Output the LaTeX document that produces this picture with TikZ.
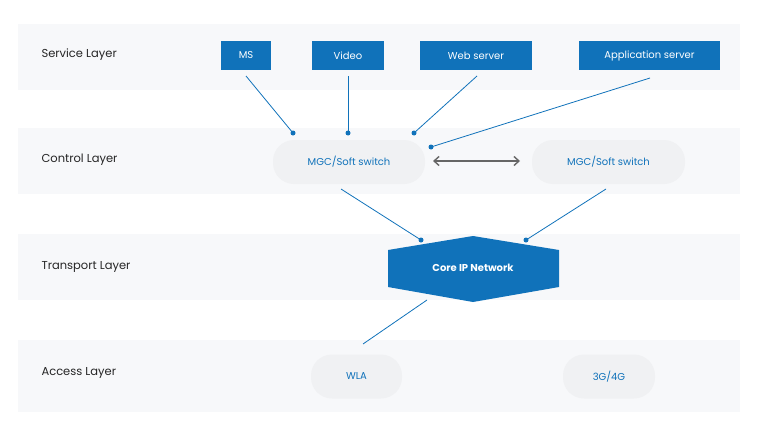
\documentclass[tikz,border=0pt]{standalone}
\usepackage{fontspec}
\setmainfont{Poppins}
\usetikzlibrary{arrows.meta}
\definecolor{band}{HTML}{F7F8FA}
\definecolor{blu}{HTML}{1072BA}
\definecolor{pill}{HTML}{F0F1F3}
\begin{document}
\begin{tikzpicture}[x=1pt,y=-1pt,
 band/.style={fill=band,draw=none},
 lay/.style={anchor=west,font=\fontsize{11.5}{13}\selectfont,text=black!85},
 svc/.style={fill=blu,text=white,font=\fontsize{10}{12}\selectfont,inner sep=0pt,minimum height=29pt},
 pl/.style={fill=pill,rounded corners=21pt,text=blu,font=\fontsize{10}{12}\selectfont,minimum height=44pt},
 ln/.style={draw=blu,line width=0.8pt},
 dot/.style={circle,fill=blu,inner sep=0pt,minimum size=5pt}]
\useasboundingbox (0,0) rectangle (765,439);
\fill[band] (18,24) rectangle (740,90);
\fill[band] (18,128) rectangle (740,194);
\fill[band] (18,234) rectangle (740,300);
\fill[band] (18,340) rectangle (740,412);
\node[lay] (l1) at (38,55) {Service Layer};
\node[lay] (l2) at (38,160) {Control Layer};
\node[lay] (l3) at (38,267) {Transport Layer};
\node[lay] (l4) at (38,373) {Access Layer};
\node[svc,minimum width=50pt] (ms) at (246,55.5) {MS};
\node[svc,minimum width=72pt] (vid) at (348,55.5) {Video};
\node[svc,minimum width=112pt] (web) at (476,55.5) {Web server};
\node[svc,minimum width=141pt] (app) at (649.5,55.5) {Application server};
\node[pl,minimum width=152pt] (m1) at (349,162) {MGC/Soft switch};
\node[pl,minimum width=153pt] (m2) at (608.5,162) {MGC/Soft switch};
\node[pl,minimum width=91pt] (wla) at (356.5,376.5) {WLA};
\node[pl,minimum width=92pt] (g) at (609,376.5) {3G/4G};
\fill[blu] (388,250) -- (473,236) -- (559,250) -- (559,287) -- (473,302) -- (388,287) -- cycle;
\node[text=white,font=\fontsize{10}{12}\selectfont\bfseries] (core) at (473,268) {Core IP Network};
\coordinate (d1) at (293,133); \coordinate (d2) at (348,133); \coordinate (d3) at (414,133);
\coordinate (d4) at (431,147); \coordinate (d5) at (421,240); \coordinate (d6) at (526,240);
\coordinate (c0) at (427,300); \coordinate (c1) at (363,344);
\coordinate (s5) at (341,189); \coordinate (s6) at (606,189);
\draw[ln] (246,76) -- (d1); \draw[ln] (348,76) -- (d2); \draw[ln] (477,76) -- (d3);
\draw[ln] (650,78) -- (d4); \draw[ln] (s5) -- (d5); \draw[ln] (s6) -- (d6); \draw[ln] (c0) -- (c1);
\foreach \d in {d1,d2,d3,d4,d5,d6} \node[dot] at (\d) {};
\draw[black!60,line width=1.4pt,{Straight Barb[length=5pt,width=9pt]}-{Straight Barb[length=5pt,width=9pt]}] (433,161) -- (520,161);
\end{tikzpicture}
\end{document}
